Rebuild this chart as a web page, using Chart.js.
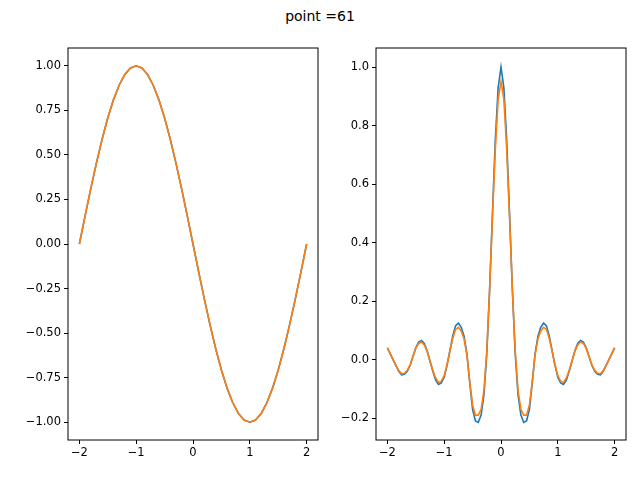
<!DOCTYPE html><html><head><script src="https://cdn.jsdelivr.net/npm/chart.js@4"></script>
<style>body{margin:0;width:640px;height:480px;background:#fff;position:relative;overflow:hidden;font-family:"DejaVu Sans"}
.w{position:absolute;top:0;width:320px;height:480px}#t{position:absolute;top:8px;left:0;width:640px;text-align:center;font-size:14px}</style></head><body>
<div id="t">point =61</div>
<div class="w" style="left:0"><canvas id="c1"></canvas></div>
<div class="w" style="left:320px"><canvas id="c2"></canvas></div>
<script>
const xLeft=[-2,-1.9,-1.8,-1.7,-1.6,-1.5,-1.4,-1.3,-1.2,-1.1,-1,-0.9,-0.8,-0.7,-0.6,-0.5,-0.4,-0.3,-0.2,-0.1,0,0.1,0.2,0.3,0.4,0.5,0.6,0.7,0.8,0.9,1,1.1,1.2,1.3,1.4,1.5,1.6,1.7,1.8,1.9,2];
const sinBlue=[0,0.1564,0.309,0.454,0.5878,0.7071,0.809,0.891,0.9511,0.9877,1,0.9877,0.9511,0.891,0.809,0.7071,0.5878,0.454,0.309,0.1564,0,-0.1564,-0.309,-0.454,-0.5878,-0.7071,-0.809,-0.891,-0.9511,-0.9877,-1,-0.9877,-0.9511,-0.891,-0.809,-0.7071,-0.5878,-0.454,-0.309,-0.1564,0];
const sinOrange=[0,0.1564,0.309,0.454,0.5878,0.7071,0.809,0.891,0.9511,0.9877,1,0.9877,0.9511,0.891,0.809,0.7071,0.5878,0.454,0.309,0.1564,0,-0.1564,-0.309,-0.454,-0.5878,-0.7071,-0.809,-0.891,-0.9511,-0.9877,-1,-0.9877,-0.9511,-0.891,-0.809,-0.7071,-0.5878,-0.454,-0.309,-0.1564,0];
const xRight=[-2,-1.95,-1.9,-1.85,-1.8,-1.75,-1.7,-1.65,-1.6,-1.55,-1.5,-1.45,-1.4,-1.35,-1.3,-1.25,-1.2,-1.15,-1.1,-1.05,-1,-0.95,-0.9,-0.85,-0.8,-0.75,-0.7,-0.65,-0.6,-0.55,-0.5,-0.45,-0.4,-0.35,-0.3,-0.25,-0.2,-0.15,-0.1,-0.05,0,0.05,0.1,0.15,0.2,0.25,0.3,0.35,0.4,0.45,0.5,0.55,0.6,0.65,0.7,0.75,0.8,0.85,0.9,0.95,1,1.05,1.1,1.15,1.2,1.25,1.3,1.35,1.4,1.45,1.5,1.55,1.6,1.65,1.7,1.75,1.8,1.85,1.9,1.95,2];
const sincBlue=[0.04,0.02,0,-0.02,-0.04,-0.052,-0.05,-0.04,-0.02,0.01,0.04,0.06,0.065,0.055,0.03,-0.005,-0.04,-0.07,-0.085,-0.08,-0.06,-0.02,0.03,0.08,0.115,0.125,0.11,0.08,0.02,-0.08,-0.17,-0.21,-0.215,-0.19,-0.12,0.02,0.24,0.5,0.75,0.93,1.0,0.93,0.75,0.5,0.24,0.02,-0.12,-0.19,-0.215,-0.21,-0.17,-0.08,0.02,0.08,0.11,0.125,0.115,0.08,0.03,-0.02,-0.06,-0.08,-0.085,-0.07,-0.04,-0.005,0.03,0.055,0.065,0.06,0.04,0.01,-0.02,-0.04,-0.05,-0.052,-0.04,-0.02,0,0.02,0.04];
const sincOrange=[0.04,0.02,0,-0.02,-0.038,-0.048,-0.047,-0.037,-0.018,0.01,0.038,0.055,0.06,0.05,0.028,-0.005,-0.037,-0.063,-0.078,-0.074,-0.055,-0.018,0.028,0.072,0.103,0.11,0.098,0.07,0.015,-0.075,-0.155,-0.19,-0.19,-0.17,-0.105,0.03,0.24,0.49,0.72,0.89,0.95,0.89,0.72,0.49,0.24,0.03,-0.105,-0.17,-0.19,-0.19,-0.155,-0.075,0.015,0.07,0.098,0.11,0.103,0.072,0.028,-0.018,-0.055,-0.074,-0.078,-0.063,-0.037,-0.005,0.028,0.05,0.06,0.055,0.038,0.01,-0.018,-0.037,-0.047,-0.048,-0.038,-0.02,0,0.02,0.04];
const xTicks=[-2,-1,0,1,2];
const leftTicks=[-1,-0.75,-0.5,-0.25,0,0.25,0.5,0.75,1];
const rightTicks=[-0.2,0,0.2,0.4,0.6,0.8,1.0];
const box={id:'box',afterDraw(c){const a=c.chartArea,x=c.ctx;x.save();x.strokeStyle='#000';x.lineWidth=1;x.strokeRect(a.left,a.top,a.right-a.left,a.bottom-a.top);x.restore();}};
const pts=(xs,ys)=>xs.map((v,i)=>({x:v,y:ys[i]}));
function make(id,xs,b,o,ymin,ymax,yt,yw,pr,dec){
 const font={family:'DejaVu Sans',size:11.5};
 new Chart(document.getElementById(id),{type:'line',plugins:[box],
 data:{datasets:[{data:pts(xs,b),borderColor:'#1f77b4',borderWidth:1.6,pointRadius:0,tension:0,order:1},{data:pts(xs,o),borderColor:'#ff7f0e',borderWidth:1.6,pointRadius:0,tension:0,order:0}]},
 options:{animation:false,responsive:true,maintainAspectRatio:false,layout:{padding:{top:48,right:pr,left:0,bottom:0}},
 plugins:{legend:{display:false},tooltip:{enabled:false}},
 scales:{x:{type:'linear',min:-2.2,max:2.2,afterBuildTicks:s=>{s.ticks=xTicks.map(v=>({value:v}))},afterFit:s=>{s.height=40},
  grid:{drawOnChartArea:false,tickLength:4,color:'#000'},border:{display:false},ticks:{color:'#000',font,maxRotation:0,padding:2,callback:v=>String(v).replace('-','−')}},
 y:{min:ymin,max:ymax,afterBuildTicks:s=>{s.ticks=yt.map(v=>({value:v}))},afterFit:s=>{s.width=yw},
  grid:{drawOnChartArea:false,tickLength:4,color:'#000'},border:{display:false},ticks:{color:'#000',font,padding:3,callback:v=>v.toFixed(dec).replace('-','−')}}}}});
}
make('c1',xLeft,sinBlue,sinOrange,-1.1,1.1,leftTicks,68,2,2);
make('c2',xRight,sincBlue,sincOrange,-0.275,1.065,rightTicks,56,14,1);
</script></body></html>
